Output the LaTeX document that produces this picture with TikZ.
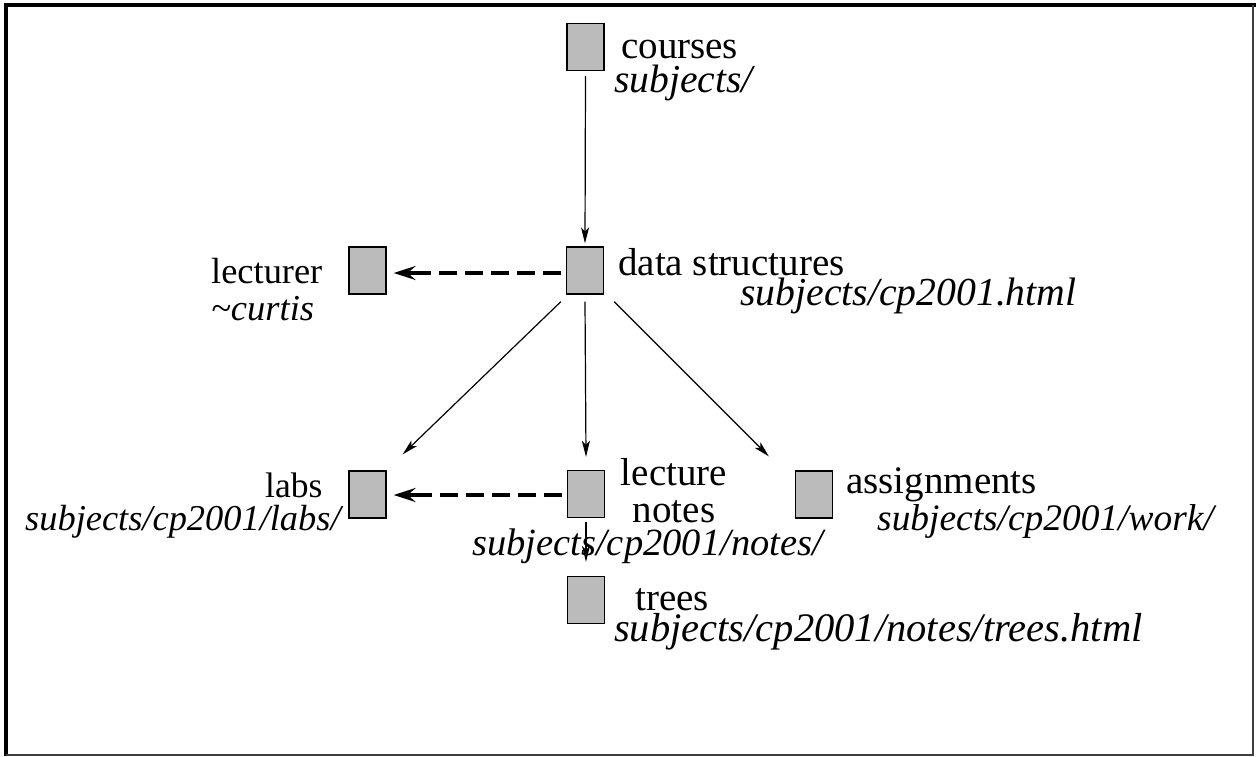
\documentclass[tikz,border=0pt]{standalone}
\usepackage{fontspec}
\setmainfont{Liberation Serif}
\usetikzlibrary{arrows.meta}
\begin{document}
\begin{tikzpicture}[x=1pt,y=-1pt,
  page/.style={draw=black,line width=1.3pt,fill=boxgray,minimum width=37pt,minimum height=47pt,inner sep=0pt},
  lbl/.style={anchor=base west,inner sep=0pt,font=\fontsize{#1}{40}\selectfont},
  lbl/.default=39,
  ilbl/.style={anchor=base west,inner sep=0pt,font=\fontsize{#1}{42}\selectfont\itshape},
  ilbl/.default=40.5,
  link/.style={line width=1.2pt,-{Stealth[length=16pt,width=8pt,inset=4pt]}},
  dlink/.style={line width=3.2pt,dash pattern=on 18pt off 8pt},
  dtip/.style={line width=3.2pt,-{Stealth[length=22pt,width=14pt,inset=8pt]}}
]
\definecolor{boxgray}{RGB}{187,187,187}
\useasboundingbox (0,0) rectangle (1256,756);
% frame
\draw[line width=4pt,black] (5.5,756) -- (5.5,5) -- (1256,5);
\draw[line width=2pt,black!75] (1253,5) -- (1253,754.5) -- (5.5,754.5);
% pages
\node[page] (crs) at (585.5,47) {};
\node[page] (ds)  at (585,270.5) {};
\node[page] (lec) at (367.5,270.5) {};
\node[page] (lab) at (367.5,494.5) {};
\node[page] (nts) at (586,494) {};
\node[page] (asg) at (814,494.5) {};
\node[page] (trs) at (586,600) {};
% labels
\node[lbl]  (t1) at (621,58) {courses};
\node[ilbl=39.6] (u1) at (614,92) {subjects/};
\node[lbl]  (t2) at (618,275) {data structures};
\node[ilbl=39.7] (u2) at (740,305) {subjects/cp2001.html};
\node[lbl=36.4]  (t3) at (211,283) {lecturer};
\node[ilbl=36.5] (u3) at (211,320) {\textasciitilde curtis};
\node[lbl=35.5]  (t4) at (265,497) {labs};
\node[ilbl=36.4] (u4) at (25,530) {subjects/cp2001/labs/};
\node[lbl,anchor=base,align=center] (t5) at (674,522) {lecture\\[-3pt]notes};
\node[ilbl=38.5] (u5) at (472,555) {subjects/cp2001/notes/};
\node[lbl]  (t6) at (846,493) {assignments};
\node[ilbl=37.4] (u6) at (877,530) {subjects/cp2001/work/};
\node[lbl]  (t7) at (635,610) {trees};
\node[ilbl] (u7) at (614,641) {subjects/cp2001/notes/trees.html};
% links
\draw[link] ([shift={(0,5)}]crs.south) -- ([shift={(0,-3)}]ds.north);
\draw[link] ([shift={(0,7)}]ds.south) -- ([shift={(0,-13)}]nts.north);
\draw[link] ([shift={(10,7)}]ds.south east) -- ([shift={(-26,-14)}]asg.north west);
\draw[link] ([shift={(-5,7)}]ds.south west) -- ([shift={(16,-16)}]lab.north east);
\draw[link] ([shift={(0,4)}]nts.south) -- ([shift={(0,-14)}]trs.north);
\draw[dlink] ([shift={(-5,2.5)}]ds.west) -- ([shift={(32,2.5)}]lec.east);
\draw[dtip] ([shift={(32,2.5)}]lec.east) -- ([shift={(7,2.5)}]lec.east);
\draw[dlink] ([shift={(-5,1)}]nts.west) -- ([shift={(32,0.5)}]lab.east);
\draw[dtip] ([shift={(32,0.5)}]lab.east) -- ([shift={(7,0.5)}]lab.east);
\end{tikzpicture}
\end{document}
